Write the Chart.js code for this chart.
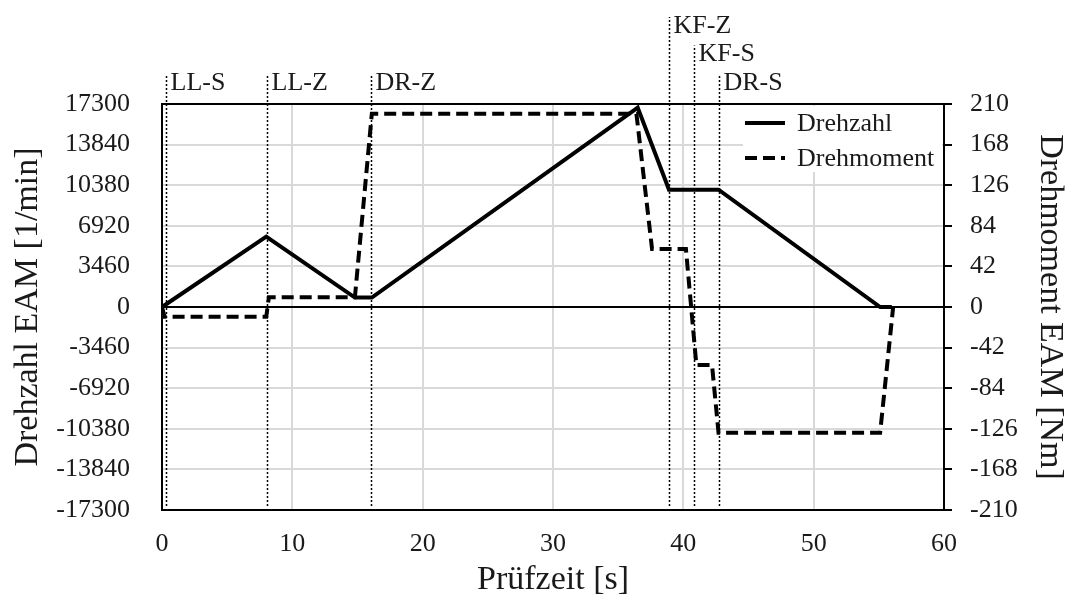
<!DOCTYPE html>
<html lang="de">
<head>
<meta charset="utf-8">
<title>Drehzahl und Drehmoment EAM</title>
<script src="https://cdn.jsdelivr.net/npm/chart.js@4"></script>
<style>
  html, body { margin: 0; padding: 0; background: #fff; }
  #wrap { width: 1072px; height: 608px; }
</style>
</head>
<body>
<div id="wrap"><canvas id="pruefChart" width="1072" height="608"></canvas></div>
<script>
// Drehzahl EAM [1/min] über Prüfzeit [s]
const drehzahlZeit = [0, 8, 14.8, 16.1, 36.5, 38.9, 42.7, 55.1, 56];
const drehzahlWerte = [0, 6000, 800, 800, 17000, 10000, 10000, 0, 0];

// Drehmoment EAM [Nm] über Prüfzeit [s]
const momentZeit = [0, 0.2, 8, 8.2, 14.8, 16.1, 36.4, 37.6, 40.2, 41, 42.2, 42.7, 55.1, 56.1];
const momentWerte = [0, -10, -10, 10, 10, 200, 200, 60, 60, -60, -60, -130, -130, 0];

// Prüfphasen (gepunktete Linien)
const phasenLabels = ["LL-S", "LL-Z", "DR-Z", "KF-Z", "KF-S", "DR-S"];
const phasenZeit = [0.3, 8.05, 16, 38.9, 40.8, 42.75];

// Achsenteilung
const zeitTicks = [0, 10, 20, 30, 40, 50, 60];
const drehzahlTicks = [-17300, -13840, -10380, -6920, -3460, 0, 3460, 6920, 10380, 13840, 17300];
const momentTicks = [-210, -168, -126, -84, -42, 0, 42, 84, 126, 168, 210];

const serif = '"Liberation Serif", "Times New Roman", serif';
const gridGrau = "#d9d9d9";
const textFarbe = "#1a1a1a";

function toPoints(xs, ys) {
  return xs.map((x, i) => ({ x: x, y: ys[i] }));
}

// dotted phase markers with labels above the plot
const phasenPlugin = {
  id: "phasen",
  beforeDatasetsDraw(chart) {
    const { ctx, chartArea, scales } = chart;
    const stufe = { "KF-Z": 2, "KF-S": 1 };
    ctx.save();
    ctx.strokeStyle = "#000";
    ctx.lineWidth = 1.5;
    ctx.setLineDash([2, 2]);
    ctx.fillStyle = textFarbe;
    ctx.font = "26px " + serif;
    ctx.textAlign = "left";
    ctx.textBaseline = "middle";
    phasenZeit.forEach((t, i) => {
      const x = Math.round(scales.x.getPixelForValue(t)) + 0.5;
      const lvl = stufe[phasenLabels[i]] || 0;
      const top = 74 - lvl * 28.5;
      ctx.beginPath();
      ctx.moveTo(x, chartArea.bottom - 4);
      ctx.lineTo(x, top);
      ctx.stroke();
      ctx.fillText(phasenLabels[i], x + 4, top + 9);
    });
    ctx.restore();
  }
};

// legend inside the plot, top right
const legendePlugin = {
  id: "legende",
  afterDatasetsDraw(chart) {
    const { ctx, chartArea } = chart;
    ctx.save();
    ctx.fillStyle = "#fff";
    ctx.fillRect(743, chartArea.top + 2, chartArea.right - 745, 66);
    ctx.font = "26px " + serif;
    ctx.textAlign = "left";
    ctx.textBaseline = "middle";
    chart.data.datasets.forEach((ds, i) => {
      const y = 123 + i * 35;
      ctx.strokeStyle = ds.borderColor;
      ctx.lineWidth = ds.borderWidth;
      ctx.setLineDash(ds.borderDash || []);
      ctx.beginPath();
      ctx.moveTo(745, y);
      ctx.lineTo(785, y);
      ctx.stroke();
      ctx.fillStyle = textFarbe;
      ctx.fillText(ds.label, 797, y + 1);
    });
    ctx.restore();
  }
};

document.addEventListener("DOMContentLoaded", () => {
  const ctx = document.getElementById("pruefChart").getContext("2d");
  const plain = v => String(v);

  new Chart(ctx, {
    type: "line",
    data: {
      datasets: [
        {
          label: "Drehzahl",
          data: toPoints(drehzahlZeit, drehzahlWerte),
          yAxisID: "y",
          borderColor: "#000",
          borderWidth: 4,
          pointRadius: 0,
          tension: 0,
          fill: false
        },
        {
          label: "Drehmoment",
          data: toPoints(momentZeit, momentWerte),
          yAxisID: "y1",
          borderColor: "#000",
          borderWidth: 4,
          borderDash: [12, 6],
          pointRadius: 0,
          tension: 0,
          fill: false
        }
      ]
    },
    options: {
      responsive: false,
      animation: false,
      layout: { padding: { top: 104 } },
      plugins: {
        legend: { display: false },
        tooltip: { enabled: false }
      },
      scales: {
        x: {
          type: "linear",
          min: 0,
          max: 60,
          afterBuildTicks: axis => { axis.ticks = zeitTicks.map(v => ({ value: v })); },
          afterFit: axis => { axis.height = 98; },
          grid: {
            color: c => (c.tick.value === 0 || c.tick.value === 60 ? "rgba(0,0,0,0)" : gridGrau),
            lineWidth: 2,
            drawTicks: false
          },
          border: { color: "#000", width: 2 },
          ticks: {
            color: textFarbe,
            padding: 19,
            callback: plain,
            font: { family: serif, size: 26 }
          },
          title: {
            display: true,
            text: "Prüfzeit [s]",
            color: textFarbe,
            font: { family: serif, size: 34 },
            padding: { bottom: 8 }
          }
        },
        y: {
          position: "left",
          min: -17300,
          max: 17300,
          afterBuildTicks: axis => { axis.ticks = drehzahlTicks.map(v => ({ value: v })); },
          afterFit: axis => { axis.width = 162; },
          grid: {
            color: c => (c.tick.value === 0 || c.tick.value === 17300 ? "#000" : gridGrau),
            lineWidth: 2,
            drawTicks: false
          },
          border: { color: "#000", width: 2 },
          ticks: {
            color: textFarbe,
            padding: 32,
            callback: plain,
            font: { family: serif, size: 26 }
          },
          title: {
            display: true,
            text: "Drehzahl EAM [1/min]",
            color: textFarbe,
            font: { family: serif, size: 34 },
            padding: { top: 8 }
          }
        },
        y1: {
          position: "right",
          min: -210,
          max: 210,
          afterBuildTicks: axis => { axis.ticks = momentTicks.map(v => ({ value: v })); },
          afterFit: axis => { axis.width = 128; },
          grid: {
            drawOnChartArea: false,
            drawTicks: true,
            tickLength: 8,
            tickColor: "#000",
            lineWidth: 2
          },
          border: { color: "#000", width: 2 },
          ticks: {
            color: textFarbe,
            padding: 18,
            callback: plain,
            font: { family: serif, size: 26 }
          },
          title: {
            display: true,
            text: "Drehmoment EAM [Nm]",
            color: textFarbe,
            font: { family: serif, size: 34 },
            padding: { top: 2 }
          }
        }
      }
    },
    plugins: [phasenPlugin, legendePlugin]
  });
});
</script>
</body>
</html>
